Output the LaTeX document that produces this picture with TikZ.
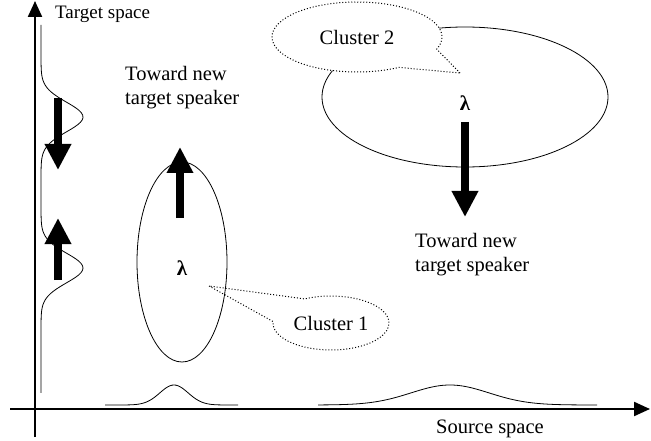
\documentclass[tikz,border=0pt]{standalone}
\usepackage{fontspec}
\setmainfont{Liberation Serif}
\usetikzlibrary{arrows.meta,shapes.geometric,shapes.callouts}
\begin{document}
\begin{tikzpicture}[x=1pt,y=-1pt,
  declare function={bump(\t,\m,\s)=exp(-min(((\t-\m)/\s)*((\t-\m)/\s),20));},
  txt/.style={font=\fontsize{20.5}{24}\selectfont, inner sep=0pt},
  lam/.style={font=\fontsize{21}{24}\selectfont\bfseries, inner sep=0pt},
  axisline/.style={line width=2.2pt, -{Triangle[length=16pt,width=14pt]}},
  bigarrow/.style={line width=7.5pt, -{Triangle[length=26pt,width=25pt]}},
  curve/.style={line width=0.8pt},
  clusterbox/.style={draw, ellipse, line width=0.8pt, inner sep=0pt},
  calloutbox/.style={ellipse callout, draw, fill=white, line width=1pt,
    dash pattern=on 1pt off 2pt, font=\fontsize{20.5}{24}\selectfont, inner sep=0pt}
]
\useasboundingbox (0,0) rectangle (651,441);

% axes
\coordinate (yb) at (35,437);
\coordinate (yt) at (35,1);
\coordinate (xl) at (10,409);
\coordinate (xr) at (650,409);
\draw[axisline] (yb) -- (yt);
\draw[axisline] (xl) -- (xr);
\node[txt, font=\fontsize{19}{23}\selectfont, anchor=west] (tgt) at (55,14) {Target space};
\node[txt] (src) at (490,429) {Source space};

% distributions
\draw[curve] plot[domain=25:393, samples=160, smooth]
  ({41+42*bump(\x,117,21)+42*bump(\x,268,21)}, \x);
\draw[curve] plot[domain=105:238, samples=80, smooth]
  (\x, {405-20*bump(\x,174,20)});
\draw[curve] plot[domain=318:597, samples=120, smooth]
  (\x, {405-20*bump(\x,450,55)});

% left arrows
\coordinate (la1s) at (58,98);  \coordinate (la1e) at (58,170);
\coordinate (la2s) at (58,280); \coordinate (la2e) at (58,218);
\draw[bigarrow] (la1s) -- (la1e);
\draw[bigarrow] (la2s) -- (la2e);

% cluster 1
\node[calloutbox, minimum width=116pt, minimum height=54pt,
  callout absolute pointer={(209,286)}, callout pointer arc=60] (cl1) at (331,323) {Cluster 1};
\node[clusterbox, minimum width=90pt, minimum height=200pt] (c1) at (182,262) {};
\node[lam] (l1) at (182,268) {λ};
\coordinate (ma1s) at (180,218); \coordinate (ma1e) at (180,147);
\draw[bigarrow] (ma1s) -- (ma1e);
\node[txt, align=left, anchor=west] (tw1) at (125,88) {Toward new\\target speaker};

% cluster 2
\node[clusterbox, minimum width=286pt, minimum height=140pt] (c2) at (465,97) {};
\node[calloutbox, minimum width=170pt, minimum height=70pt,
  callout absolute pointer={(460,73)}, callout pointer arc=40] (cl2) at (357,37) {Cluster 2};
\node[lam] (l2) at (465,103) {λ};
\coordinate (ra1s) at (465,122); \coordinate (ra1e) at (465,217);
\draw[bigarrow] (ra1s) -- (ra1e);
\node[txt, align=left, anchor=west] (tw2) at (415,255) {Toward new\\target speaker};
\end{tikzpicture}
\end{document}
